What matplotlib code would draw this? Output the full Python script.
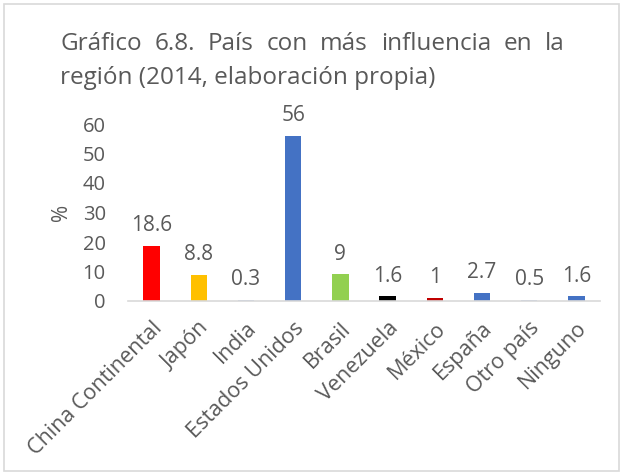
import matplotlib
matplotlib.use("Agg")
import matplotlib.pyplot as plt
from matplotlib.patches import Rectangle

paises = ["China Continental", "Japón", "India", "Estados Unidos", "Brasil",
          "Venezuela", "México", "España", "Otro país", "Ninguno"]
valores = [18.6, 8.8, 0.3, 56, 9, 1.6, 1, 2.7, 0.5, 1.6]
etiquetas = ["18.6", "8.8", "0.3", "56", "9", "1.6", "1", "2.7", "0.5", "1.6"]
colores = ["#FF0000", "#FFC000", "#B4C7E7", "#4472C4", "#92D050",
           "#000000", "#C00000", "#4472C4", "#B4C7E7", "#4472C4"]
titulo_1 = "Gráfico 6.8. País con más influencia en la"
titulo_2 = "región (2014, elaboración propia)"

GRIS = "#595959"
plt.rcParams['font.family'] = ['Open Sans', 'DejaVu Sans']

W, H = 624, 475
fig = plt.figure(figsize=(W / 100, H / 100), dpi=100)
ax = fig.add_axes([128 / W, 1 - 301 / H, 472 / W, 177 / H])

x = range(len(paises))
bars = ax.bar(x, valores, color=colores, width=0.35)

# Valores sobre barras
for bar, txt in zip(bars, etiquetas):
    ax.annotate(txt, (bar.get_x() + bar.get_width() / 2, bar.get_height()),
                xytext=(0, 7), textcoords='offset points',
                ha='center', va='bottom', fontsize=15, color=GRIS)

ax.set_xlim(-0.5, len(paises) - 0.5)
ax.set_ylim(0, 60)
ax.set_yticks(range(0, 61, 10))
ax.set_xticks(list(x))
ax.set_xticklabels(paises, rotation=45, ha='right', rotation_mode='anchor',
                   fontsize=15.5, color=GRIS)
ax.tick_params(axis='y', length=0, labelsize=14.5, labelcolor=GRIS, pad=16)
ax.tick_params(axis='x', length=0, pad=12)
ax.set_ylabel('%', fontsize=15, color=GRIS, labelpad=8)

for lado in ['top', 'right', 'left']:
    ax.spines[lado].set_visible(False)
ax.spines['bottom'].set_color('#D9D9D9')
ax.spines['bottom'].set_linewidth(1.2)

# Título: primera línea justificada entre 60 y 565 px
x0, x1 = 60, 565
palabras = titulo_1.split()
renderer = fig.canvas.get_renderer()
textos = [fig.text(0, 1 - 44 / H, p, fontsize=17.5, color=GRIS, va='center')
          for p in palabras]
anchos = [t.get_window_extent(renderer).width for t in textos]
hueco = (x1 - x0 - sum(anchos)) / (len(palabras) - 1)
pos = x0
for t, a in zip(textos, anchos):
    t.set_x(pos / W)
    pos += a + hueco
fig.text(x0 / W, 1 - 78 / H, titulo_2, fontsize=17.5, color=GRIS,
         ha='left', va='center')

# Borde del gráfico
fig.patches.append(Rectangle((4 / W, 4 / H), 615 / W, 467 / H,
                             transform=fig.transFigure, fill=False,
                             edgecolor='#D9D9D9', linewidth=1.2))

fig.savefig('out.png', dpi=100)
